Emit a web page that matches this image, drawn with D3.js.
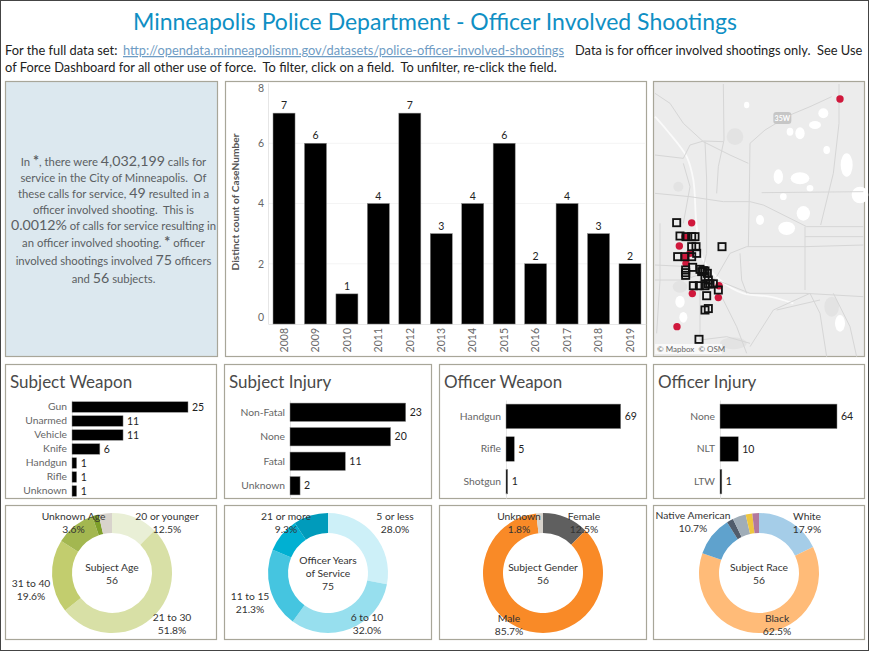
<!DOCTYPE html>
<html>
<head>
<meta charset="utf-8">
<script src="https://cdn.jsdelivr.net/npm/d3@7"></script>
<style>
body { margin: 0; background: #fff; }
text { font-family: Lato, "Open Sans", sans-serif; white-space: pre; }
</style>
</head>
<body>
<script>
// yearly chart
const years = ["2008","2009","2010","2011","2012","2013","2014","2015","2016","2017","2018","2019"];
const yearCounts = [7,6,1,4,7,3,4,6,2,4,3,2];

// horizontal bars
const subjectWeaponCats = ["Gun","Unarmed","Vehicle","Knife","Handgun","Rifle","Unknown"];
const subjectWeaponVals = [25,11,11,6,1,1,1];
const subjectInjuryCats = ["Non-Fatal","None","Fatal","Unknown"];
const subjectInjuryVals = [23,20,11,2];
const officerWeaponCats = ["Handgun","Rifle","Shotgun"];
const officerWeaponVals = [69,5,1];
const officerInjuryCats = ["None","NLT","LTW"];
const officerInjuryVals = [64,10,1];

// donuts
const ageCats = ["20 or younger","21 to 30","31 to 40","41 to 50","51 or older","Unknown Age"];
const ageVals = [7,29,11,6,1,2];
const serviceCats = ["5 or less","6 to 10","11 to 15","16 to 20","21 or more"];
const serviceVals = [21,24,16,7,7];
const genderCats = ["Female","Male","Unknown"];
const genderVals = [7,48,1];
const raceCats = ["White","Black","Native American","Asian","Other","Hispanic","Unknown"];
const raceVals = [10,35,6,1,2,1,1];

// map points, lon / lat
const shootingsFatal = [[-93.045,45.18],[-93.2675,45.05],[-93.2775,45.0355],[-93.286,45.0257],[-93.27,45.018],[-93.2775,45.0145],[-93.276,45.0075],[-93.2265,44.984],[-93.2665,44.9757],[-93.2275,44.9715],[-93.2895,44.941]];
const shootingsOther = [[-93.29,45.0502],[-93.285,45.0362],[-93.276,45.0355],[-93.2675,45.0355],[-93.2625,45.0355],[-93.2675,45.025],[-93.261,45.025],[-93.26,45.018],[-93.2885,45.0145],[-93.2775,45.0145],[-93.2675,45.0145],[-93.222,45.025],[-93.266,45.0033],[-93.2765,45.0005],[-93.2765,44.9977],[-93.2765,44.9949],[-93.255,45.0012],[-93.25,44.9998],[-93.2525,44.9988],[-93.2475,44.9995],[-93.244,44.997],[-93.2475,44.9935],[-93.2425,44.99],[-93.24,44.986],[-93.265,44.984],[-93.256,44.984],[-93.2475,44.984],[-93.2425,44.986],[-93.235,44.986],[-93.2275,44.9795],[-93.245,44.9735],[-93.2425,44.96],[-93.2475,44.9585],[-93.2565,44.9277]];

// basemap linework, in basemap grid units
const mapRoads = [
  [[567,12],[567,130],[550,280],[512,435]],
  [[545,50],[480,80],[420,105],[345,150],[300,190],[298,340],[295,500]],
  [[15,40],[60,70],[100,130],[160,185],[240,225],[295,250]],
  [[15,225],[100,235],[120,195],[160,183],[220,185]],
  [[220,12],[222,180],[205,260],[200,340]],
  [[165,185],[170,300],[170,520],[150,600],[150,780]],
  [[15,340],[120,350],[220,365],[300,365],[340,375],[470,440],[640,440]],
  [[335,338],[640,335]],
  [[465,440],[465,630]],
  [[200,590],[240,520],[290,500],[465,500],[640,495]],
  [[15,600],[100,600],[160,580],[200,600],[300,640],[465,640],[640,650]],
  [[480,640],[370,690],[300,800]],
  [[480,640],[510,700],[530,830]],
  [[30,430],[30,600],[20,760]],
  [[270,520],[275,600],[290,640]],
  [[215,650],[260,740],[290,820]],
  [[150,780],[230,770],[300,790]],
  [[550,640],[600,740],[620,830]],
  [[465,470],[640,470]],
  [[100,250],[120,320],[100,430]],
  [[15,555],[120,560]],
  [[380,690],[510,660]]
];
const mapRiver = [[15,110],[50,150],[110,230],[130,300],[140,440],[160,540],[210,600],[280,640],[360,650],[430,670]];
const mapLakes = [[385,290,14,22],[450,295,28,18],[590,255,18,35],[630,345,25,25],[410,445,25,20],[460,400,20,22],[90,665,14,18],[100,712,12,16],[495,135,18,12],[450,160,14,18],[420,155,10,12],[290,75,8,10],[520,100,15,15],[570,730,15,25],[330,420,12,15],[400,350,10,10],[530,210,10,12],[480,325,10,10]];
const mapParks = [[255,170,25,25],[85,320,15,15],[90,620,22,18],[250,790,40,18],[545,680,22,30]];

const width = 870;
const height = 652;
const frame = "#a8a699";

const svg = d3.select("body").append("svg")
  .attr("width", width)
  .attr("height", height)
  .style("display", "block");

svg.append("rect").attr("x",0.5).attr("y",0.5).attr("width",868).attr("height",650)
  .attr("fill","#fff").attr("stroke","#444");

// header
svg.append("text").attr("x",435).attr("y",30).attr("text-anchor","middle")
  .attr("font-size",23).attr("fill","#0f8fc4")
  .text("Minneapolis Police Department - Officer Involved Shootings");
svg.append("text").attr("x",5).attr("y",55).attr("font-size",12.85).attr("fill","#222")
  .text("For the full data set:");
svg.append("text").attr("x",123).attr("y",55).attr("font-size",12.85).attr("fill","#6f9cc4")
  .attr("text-decoration","underline")
  .text("http://opendata.minneapolismn.gov/datasets/police-officer-involved-shootings");
svg.append("text").attr("x",575).attr("y",55).attr("font-size",12.85).attr("fill","#222")
  .text("Data is for officer involved shootings only.  See Use");
svg.append("text").attr("x",5).attr("y",72).attr("font-size",12.85).attr("fill","#222")
  .text("of Force Dashboard for all other use of force.  To filter, click on a field.  To unfilter, re-click the field.");

function panel(x0, y0, x1, y1, fill) {
  svg.append("rect").attr("x",x0+0.5).attr("y",y0+0.5)
    .attr("width",x1-x0).attr("height",y1-y0)
    .attr("fill",fill || "#fff").attr("stroke",frame).attr("stroke-width",1.2);
}

// summary text panel
panel(5,81,217,356,"#dce8ef");
const summaryLines = [
  [["In ",0],["*",2],[", there were ",0],["4,032,199",1],[" calls for",0]],
  [["service in the City of Minneapolis.  Of",0]],
  [["these calls for service, ",0],["49",1],[" resulted in a",0]],
  [["officer involved shooting.  This is",0]],
  [["0.0012%",1],[" of calls for service resulting in",0]],
  [["an officer involved shooting. ",0],["*",2],[" officer",0]],
  [["involved shootings involved ",0],["75",1],[" officers",0]],
  [["and ",0],["56",1],[" subjects.",0]]
];
const summaryY = [166,182,198,214,230,247,265,283];
summaryLines.forEach((line,i) => {
  const t = svg.append("text").attr("x",113.5).attr("y",summaryY[i]).attr("text-anchor","middle").attr("fill","#5b5f63");
  line.forEach(part => t.append("tspan")
    .attr("font-size",part[1] ? 14.2 : 11.3)
    .attr("font-weight",part[1]===2 ? 700 : 400)
    .text(part[0]));
});

// yearly bars
panel(225,81,646,356);
const yearX = d3.scaleBand().domain(years).range([268.3,645.7]).paddingInner(0.3).paddingOuter(0.15);
const yearY = d3.scaleLinear().domain([0,8]).range([324,83]);

svg.selectAll(".grid").data([2,4,6]).join("line").attr("class","grid")
  .attr("x1",268).attr("x2",645).attr("y1",d=>yearY(d)).attr("y2",d=>yearY(d)).attr("stroke","#f4f4f4");

const yAxis = svg.append("g").attr("transform","translate(268,0)")
  .call(d3.axisLeft(yearY).tickValues([0,2,4,6,8]).tickSize(0).tickPadding(4));
yAxis.select(".domain").attr("stroke","#e6e6e6");
yAxis.selectAll("text").attr("font-size",10.5).attr("fill","#666")
  .attr("dy", d => d === 0 ? "-0.3em" : d === 8 ? "0.85em" : "0.32em");

const xAxis = svg.append("g").attr("transform","translate(0,324)")
  .call(d3.axisBottom(yearX).tickSize(0));
xAxis.select(".domain").attr("stroke","#e6e6e6");
xAxis.selectAll("text").attr("font-size",10.5).attr("fill","#666")
  .attr("transform","rotate(-90)").attr("text-anchor","end")
  .attr("x",-4).attr("y",0).attr("dy","0.35em");

svg.append("text").attr("transform","translate(239,202) rotate(-90)").attr("text-anchor","middle")
  .attr("font-size",10.2).attr("font-weight",700).attr("fill","#555")
  .text("Distinct count of CaseNumber");

svg.selectAll(".yearBar").data(years).join("rect").attr("class","yearBar")
  .attr("x",d=>yearX(d)).attr("width",yearX.bandwidth())
  .attr("y",(d,i)=>yearY(yearCounts[i])).attr("height",(d,i)=>yearY(0)-yearY(yearCounts[i]))
  .attr("fill","#000").attr("stroke","#888").attr("stroke-width",0.5);
svg.selectAll(".yearLabel").data(years).join("text").attr("class","yearLabel")
  .attr("x",d=>yearX(d)+yearX.bandwidth()/2).attr("y",(d,i)=>yearY(yearCounts[i])-4)
  .attr("text-anchor","middle").attr("font-size",10.5).attr("fill","#222")
  .text((d,i)=>yearCounts[i]);

// map
panel(653,81,864,356,"#ececec");
const gridX = d3.scaleLinear().domain([0,660]).range([650,870]);
const gridY = d3.scaleLinear().domain([0,840]).range([80,360]);
const lonX = d3.scaleLinear().domain([-93.33,-93.0]).range([650,870]);
const latY = d3.scaleLinear().domain([45.2,44.906]).range([80,360]);
const mapG = svg.append("g");
const lineGen = d3.line().x(d=>gridX(d[0])).y(d=>gridY(d[1]));
mapG.selectAll(".park").data(mapParks).join("ellipse").attr("class","park")
  .attr("cx",d=>gridX(d[0])).attr("cy",d=>gridY(d[1]))
  .attr("rx",d=>d[2]/3).attr("ry",d=>d[3]/3).attr("fill","#e3e3e3");
mapG.selectAll(".lake").data(mapLakes).join("ellipse").attr("class","lake")
  .attr("cx",d=>gridX(d[0])).attr("cy",d=>gridY(d[1]))
  .attr("rx",d=>d[2]/3).attr("ry",d=>d[3]/3).attr("fill","#fff");
mapG.append("path").attr("d",d3.line().x(d=>gridX(d[0])).y(d=>gridY(d[1])).curve(d3.curveCatmullRom)(mapRiver))
  .attr("fill","none").attr("stroke","#fafafa").attr("stroke-width",1.8);
mapG.selectAll(".road").data(mapRoads).join("path").attr("class","road")
  .attr("d",d=>lineGen(d)).attr("fill","none").attr("stroke","#d6d6d6").attr("stroke-width",1);
mapG.append("rect").attr("x",gridX(370)).attr("y",gridY(96)).attr("width",18).attr("height",12).attr("rx",3).attr("fill","#c6c6c6");
mapG.append("text").attr("x",gridX(397)).attr("y",gridY(124)).attr("text-anchor","middle")
  .attr("font-size",7).attr("font-weight",700).attr("fill","#fff").text("35W");
svg.selectAll(".fatal").data(shootingsFatal).join("circle").attr("class","fatal")
  .attr("cx",d=>lonX(d[0])).attr("cy",d=>latY(d[1])).attr("r",3.7).attr("fill","#d0183c");
svg.selectAll(".other").data(shootingsOther).join("rect").attr("class","other")
  .attr("x",d=>lonX(d[0])-3.6).attr("y",d=>latY(d[1])-3.6).attr("width",7.2).attr("height",7.2)
  .attr("fill","none").attr("stroke","#111").attr("stroke-width",1.8);
svg.append("rect").attr("x",655).attr("y",344).attr("width",67).attr("height",10).attr("fill","#fff").attr("opacity",0.7);
svg.append("text").attr("x",657).attr("y",352).attr("font-size",8).attr("fill","#666").text("© Mapbox  © OSM");

// horizontal bar panels
function barPanel(box, title, cats, vals, x0, x1) {
  panel(box[0],364,box[1],498);
  svg.append("text").attr("x",box[0]+5).attr("y",388).attr("font-size",17).attr("fill","#4a4a4a").text(title);
  const y = d3.scaleBand().domain(cats).range([400,498]).paddingInner(0.25).paddingOuter(0.125);
  const x = d3.scaleLinear().domain([0,d3.max(vals)]).range([x0,x1]);
  const ax = svg.append("g").attr("transform",`translate(${x0},0)`)
    .call(d3.axisLeft(y).tickSize(0).tickPadding(5));
  ax.select(".domain").attr("stroke","#e6e6e6");
  ax.selectAll("text").attr("font-size",10.3).attr("fill","#666");
  const g = svg.append("g");
  g.selectAll("rect").data(cats).join("rect")
    .attr("x",x0).attr("y",d=>y(d)).attr("height",y.bandwidth())
    .attr("width",(d,i)=>x(vals[i])-x0)
    .attr("fill","#000").attr("stroke","#888").attr("stroke-width",0.5);
  g.selectAll("text").data(cats).join("text")
    .attr("x",(d,i)=>x(vals[i])+4).attr("y",d=>y(d)+y.bandwidth()/2).attr("dy","0.35em")
    .attr("font-size",10.5).attr("fill","#222").text((d,i)=>vals[i]);
}
barPanel([5,216],"Subject Weapon",subjectWeaponCats,subjectWeaponVals,72,188);
barPanel([224,431],"Subject Injury",subjectInjuryCats,subjectInjuryVals,290,405.7);
barPanel([439,646],"Officer Weapon",officerWeaponCats,officerWeaponVals,506,620.7);
barPanel([653,864],"Officer Injury",officerInjuryCats,officerInjuryVals,720,837);

// donuts
const ageColors = ["#e9efd6","#d8e0a6","#c2cd6e","#a3b750","#7f9f2a","#d8d3cc"];
const serviceColors = ["#cdf0f8","#97dfee","#45c5e0","#00b0d2","#009bbb"];
const genderColors = ["#5f5f5f","#f98a27","#d8d3cc"];
const raceColors = ["#a5cde8","#ffbb78","#5fa2cd","#515c6b","#a0adb8","#eec63f","#b2789e"];

const pie = d3.pie().sort(null);
const arc = d3.arc().innerRadius(40).outerRadius(60);

// label anchors for the slices that carry a label: category, x, y of first line
function donut(box, cx, cats, vals, colors, centerLines, labelAnchors) {
  panel(box[0],505,box[1],639);
  const total = d3.sum(vals);
  const g = svg.append("g").attr("transform",`translate(${cx},573)`);
  g.selectAll("path").data(pie(vals)).join("path").attr("d",arc).attr("fill",(d,i)=>colors[i]);
  const startY = 573 - (centerLines.length-1)*6.5 + 4;
  centerLines.forEach((s,i) => {
    svg.append("text").attr("x",cx).attr("y",startY+i*13).attr("text-anchor","middle")
      .attr("font-size",10.3).attr("fill","#333").text(s);
  });
  labelAnchors.forEach(a => {
    const v = vals[cats.indexOf(a[0])];
    svg.append("text").attr("x",a[1]).attr("y",a[2]+4).attr("text-anchor","middle")
      .attr("font-size",10.3).attr("fill","#333").text(a[0]);
    svg.append("text").attr("x",a[1]).attr("y",a[2]+17).attr("text-anchor","middle")
      .attr("font-size",10.3).attr("fill","#333").text(d3.format(".1f")(v/total*100)+"%");
  });
}
donut([5,216],112,ageCats,ageVals,ageColors,["Subject Age","56"],
  [["Unknown Age",73.5,516],["20 or younger",167,516],["21 to 30",172,617],["31 to 40",31,583]]);
donut([224,431],328,serviceCats,serviceVals,serviceColors,["Officer Years","of Service","75"],
  [["21 or more",286,516],["5 or less",395,516],["6 to 10",367,617],["11 to 15",250,596]]);
donut([439,646],543,genderCats,genderVals,genderColors,["Subject Gender","56"],
  [["Unknown",519,516],["Female",584,516],["Male",509,617.5]]);
donut([653,864],759,raceCats,raceVals,raceColors,["Subject Race","56"],
  [["Native American",693,515],["White",807,516],["Black",777,617.5]]);
</script>
</body>
</html>
